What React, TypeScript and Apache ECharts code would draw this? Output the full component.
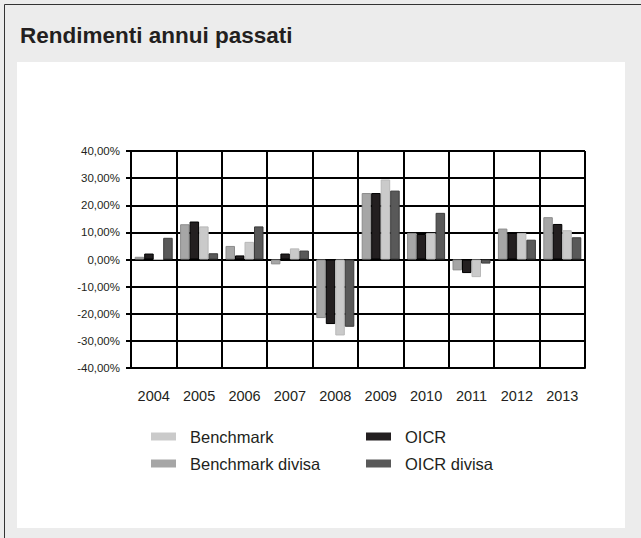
import React, { useEffect, useRef } from "react";
import * as echarts from "echarts";

const years = ["2004", "2005", "2006", "2007", "2008", "2009", "2010", "2011", "2012", "2013"];
const benchmarkDivisa = [1.0, 13.0, 5.0, -1.8, -21.6, 24.5, 9.8, -4.0, 11.4, 15.6];
const oicr = [2.2, 14.0, 1.5, 2.2, -23.8, 24.5, 9.4, -5.0, 9.8, 13.1];
const benchmark = [0, 12.2, 6.5, 4.1, -28.0, 29.5, 9.8, -6.5, 9.8, 10.8];
const oicrDivisa = [8.0, 2.3, 12.2, 3.3, -24.8, 25.4, 17.2, -1.5, 7.3, 8.2];
const yMin = -40;
const yMax = 40;
const yStep = 10;

const FONT = "'Liberation Sans', Arial, sans-serif";

export default function App() {
  const ref = useRef<HTMLDivElement>(null);
  useEffect(() => {
    document.body.style.margin = "0";
    if (!ref.current) return;
    const chart = echarts.init(ref.current, undefined, { renderer: "svg" });
    const bar = (name: string, data: number[], color: string, border: string) => ({
      name,
      type: "bar",
      data,
      barWidth: 9.5,
      barGap: "0%",
      itemStyle: { color, borderColor: border, borderWidth: 1 },
    });
    const legendCommon = {
      orient: "vertical",
      icon: "rect",
      itemWidth: 25,
      itemHeight: 8,
      itemGap: 10,
      padding: 0,
      selectedMode: false,
      itemStyle: { borderWidth: 0 },
      textStyle: { fontSize: 16.5, color: "#231f20", fontFamily: FONT, lineHeight: 16, padding: [0, 0, 0, 9] },
    };
    chart.setOption({
      animation: false,
      textStyle: { fontFamily: FONT },
      graphic: [
        { type: "rect", shape: { x: 0, y: 0, width: 641, height: 538 }, style: { fill: "#ececec" }, z: -10 },
        { type: "line", shape: { x1: 4.5, y1: 4.5, x2: 4.5, y2: 538 }, style: { stroke: "#333", lineWidth: 1 }, z: -9 },
        { type: "line", shape: { x1: 4.5, y1: 4.5, x2: 641, y2: 4.5 }, style: { stroke: "#333", lineWidth: 1 }, z: -9 },
        { type: "rect", shape: { x: 17, y: 62, width: 608, height: 466 }, style: { fill: "#ffffff" }, z: -9 },
        {
          type: "text",
          x: 20,
          y: 35,
          style: {
            text: "Rendimenti annui passati",
            fontSize: 22.5,
            fontWeight: "bold",
            fontFamily: FONT,
            fill: "#231f20",
            verticalAlign: "middle",
          },
        },
      ],
      legend: [
        { ...legendCommon, left: 151, top: 428, data: ["Benchmark", "Benchmark divisa"] },
        { ...legendCommon, left: 366, top: 428, data: ["OICR", "OICR divisa"] },
      ],
      grid: { left: 131, right: 56, top: 151, bottom: 170, containLabel: false },
      xAxis: {
        type: "category",
        data: years,
        boundaryGap: true,
        axisLine: { show: true, onZero: false, lineStyle: { color: "#000", width: 2 } },
        axisTick: { show: false },
        splitLine: { show: true, interval: 0, lineStyle: { color: "#000", width: 2 } },
        axisLabel: { interval: 0, fontSize: 14.5, color: "#231f20", margin: 20, fontFamily: FONT },
      },
      yAxis: {
        type: "value",
        min: yMin,
        max: yMax,
        interval: yStep,
        axisLine: { show: true, lineStyle: { color: "#000", width: 2 } },
        axisTick: { show: true, length: 5, lineStyle: { color: "#000", width: 2 } },
        splitLine: { show: true, lineStyle: { color: "#000", width: 2 } },
        axisLabel: {
          fontSize: 11.5,
          color: "#231f20",
          margin: 11,
          fontFamily: FONT,
          formatter: (v: number) => v.toFixed(2).replace(".", ",") + "%",
        },
      },
      series: [
        bar("Benchmark divisa", benchmarkDivisa, "#a6a6a6", "#8c8c8c"),
        bar("OICR", oicr, "#231f20", "#000000"),
        bar("Benchmark", benchmark, "#cacaca", "#b8b8b8"),
        bar("OICR divisa", oicrDivisa, "#595959", "#3c3c3c"),
      ],
    });
    return () => chart.dispose();
  }, []);
  return <div ref={ref} style={{ width: 641, height: 538 }} />;
}
